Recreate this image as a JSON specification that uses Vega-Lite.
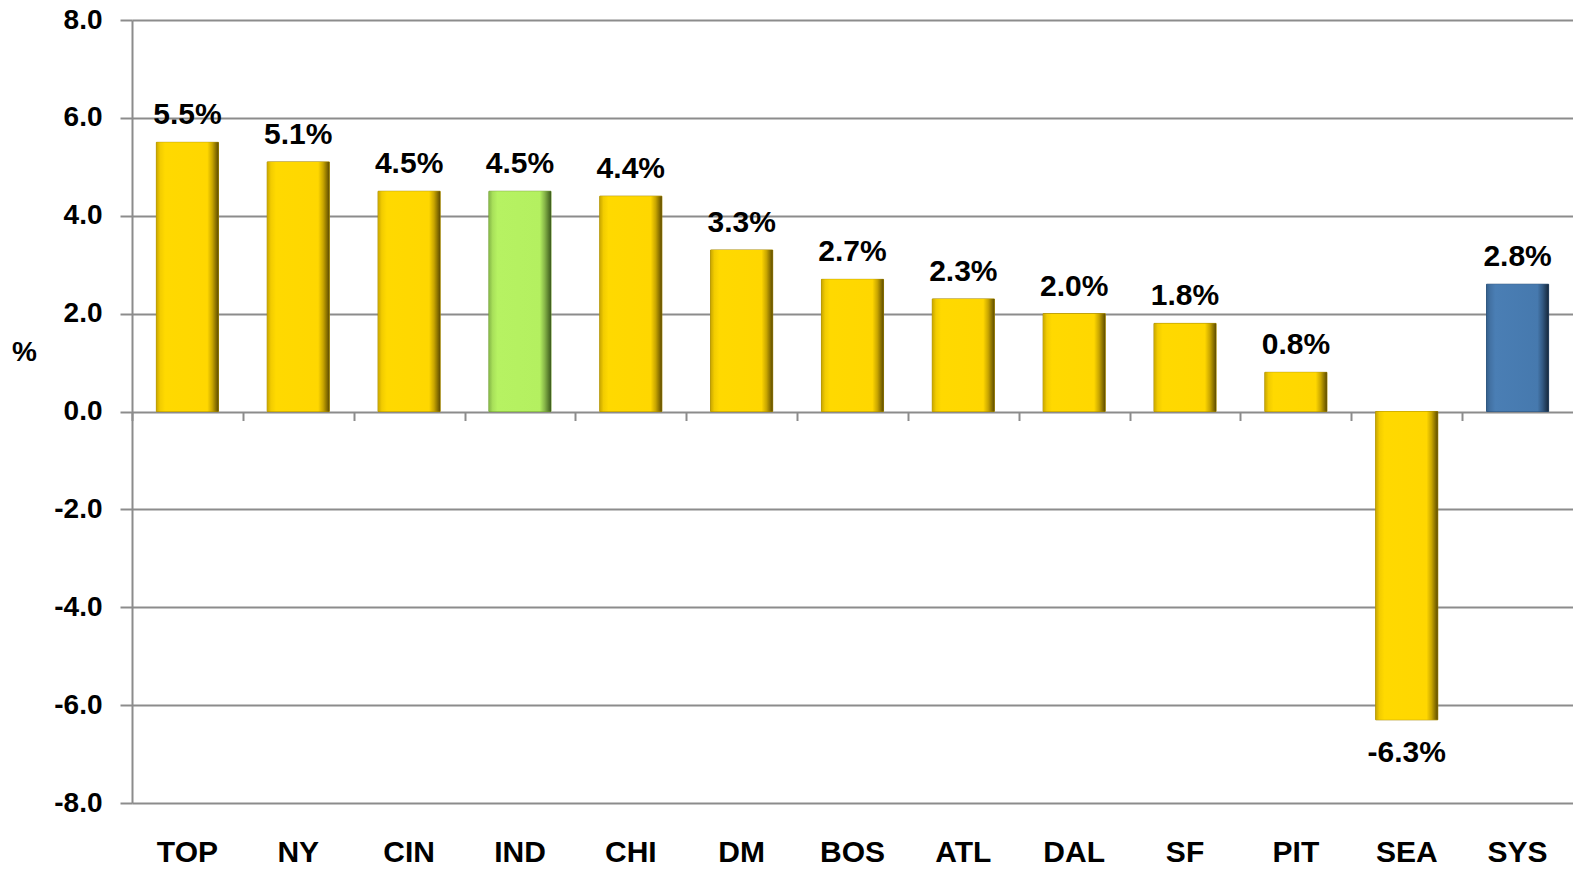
{
  "$schema": "https://vega.github.io/schema/vega-lite/v6.json",
  "width": 1441,
  "height": 783,
  "autosize": {"type": "none"},
  "padding": {"left": 132, "top": 20, "right": 0, "bottom": 66},
  "background": "white",
  "config": {
    "view": {"stroke": null},
    "font": "Liberation Sans"
  },
  "data": {
    "values": [
      {"city": "TOP", "value": 5.5, "label": "5.5%", "group": "region"},
      {"city": "NY", "value": 5.1, "label": "5.1%", "group": "region"},
      {"city": "CIN", "value": 4.5, "label": "4.5%", "group": "region"},
      {"city": "IND", "value": 4.5, "label": "4.5%", "group": "highlight"},
      {"city": "CHI", "value": 4.4, "label": "4.4%", "group": "region"},
      {"city": "DM", "value": 3.3, "label": "3.3%", "group": "region"},
      {"city": "BOS", "value": 2.7, "label": "2.7%", "group": "region"},
      {"city": "ATL", "value": 2.3, "label": "2.3%", "group": "region"},
      {"city": "DAL", "value": 2.0, "label": "2.0%", "group": "region"},
      {"city": "SF", "value": 1.8, "label": "1.8%", "group": "region"},
      {"city": "PIT", "value": 0.8, "label": "0.8%", "group": "region"},
      {"city": "SEA", "value": -6.3, "label": "-6.3%", "group": "region"},
      {"city": "SYS", "value": 2.6, "label": "2.8%", "group": "system"}
    ]
  },
  "resolve": {"axis": {"x": "independent"}},
  "layer": [
    {
      "mark": {"type": "bar", "strokeWidth": 1},
      "encoding": {
        "x": {
          "field": "city", "type": "nominal", "sort": null,
          "scale": {"domain": ["TOP", "NY", "CIN", "IND", "CHI", "DM", "BOS", "ATL", "DAL", "SF", "PIT", "SEA", "SYS"], "paddingInner": 0.44, "paddingOuter": 0.22},
          "axis": {
            "title": null, "domain": false, "ticks": false, "grid": false,
            "labelAngle": 0, "labelFontSize": 30, "labelFontWeight": "bold",
            "labelColor": "black", "labelPadding": 34, "labelBaseline": "top"
          }
        },
        "y": {
          "field": "value", "type": "quantitative",
          "scale": {"domain": [-8, 8], "nice": false, "zero": false},
          "axis": {
            "values": [-8, -6, -4, -2, 0, 2, 4, 6, 8],
            "format": ".1f",
            "labelExpr": "replace(datum.label, '\u2212', '-')",
            "title": "%", "titleAngle": 0, "titleFontSize": 28, "titleFontWeight": "bold",
            "titleColor": "black", "titleX": -108, "titleY": 332,
            "titleAlign": "center", "titleBaseline": "middle",
            "labelFontSize": 28, "labelFontWeight": "bold", "labelColor": "black",
            "labelPadding": 18, "tickSize": 12, "tickColor": "#8c8c8c", "tickWidth": 2,
            "domainColor": "#8c8c8c", "domainWidth": 2,
            "gridColor": "#8c8c8c", "gridWidth": 2, "gridOpacity": 1
          }
        },
        "color": {
          "field": "group", "type": "nominal", "legend": null,
          "scale": {"domain": ["region", "highlight", "system"], "range": ["#FFD700", "#B4F060", "#4679AE"]}
        },
        "stroke": {
          "field": "group", "type": "nominal", "legend": null,
          "scale": {"domain": ["region", "highlight", "system"], "range": ["#A88A00", "#6E9A30", "#2B4F75"]}
        }
      }
    },
    {
      "transform": [{"filter": "datum.group == 'region'"}],
      "mark": {
        "type": "bar",
        "color": {"gradient": "linear", "x1": 0, "x2": 1, "y1": 0, "y2": 0,
          "stops": [
            {"offset": 0, "color": "#C9A700"},
            {"offset": 0.06, "color": "#F2CC00"},
            {"offset": 0.14, "color": "#FFD900"},
            {"offset": 0.82, "color": "#FFD700"},
            {"offset": 0.9, "color": "#C9A600"},
            {"offset": 1, "color": "#5E4C00"}
          ]}
      },
      "encoding": {
        "x": {"field": "city", "type": "nominal", "sort": null, "axis": null},
        "y": {"field": "value", "type": "quantitative"}
      }
    },
    {
      "transform": [{"filter": "datum.group == 'highlight'"}],
      "mark": {
        "type": "bar",
        "color": {"gradient": "linear", "x1": 0, "x2": 1, "y1": 0, "y2": 0,
          "stops": [
            {"offset": 0, "color": "#86B848"},
            {"offset": 0.06, "color": "#A8E05A"},
            {"offset": 0.14, "color": "#B6F262"},
            {"offset": 0.82, "color": "#B4F060"},
            {"offset": 0.9, "color": "#86B448"},
            {"offset": 1, "color": "#3C5A1C"}
          ]}
      },
      "encoding": {
        "x": {"field": "city", "type": "nominal", "sort": null, "axis": null},
        "y": {"field": "value", "type": "quantitative"}
      }
    },
    {
      "transform": [{"filter": "datum.group == 'system'"}],
      "mark": {
        "type": "bar",
        "color": {"gradient": "linear", "x1": 0, "x2": 1, "y1": 0, "y2": 0,
          "stops": [
            {"offset": 0, "color": "#35608C"},
            {"offset": 0.06, "color": "#4372A4"},
            {"offset": 0.14, "color": "#4A7EB4"},
            {"offset": 0.82, "color": "#4679AE"},
            {"offset": 0.9, "color": "#335A84"},
            {"offset": 1, "color": "#16283C"}
          ]}
      },
      "encoding": {
        "x": {"field": "city", "type": "nominal", "sort": null, "axis": null},
        "y": {"field": "value", "type": "quantitative"}
      }
    },
    {
      "transform": [{"filter": "datum.value >= 0"}],
      "mark": {"type": "text", "baseline": "alphabetic", "dy": -18, "fontSize": 30, "fontWeight": "bold", "color": "black"},
      "encoding": {
        "x": {
          "field": "city", "type": "nominal", "sort": null,
          "axis": {
            "title": null, "labels": false, "grid": false, "domain": false,
            "ticks": true, "bandPosition": 0, "tickOffset": -24.4, "tickSize": -9, "tickWidth": 2,
            "tickColor": "#8c8c8c", "offset": -391.5, "zindex": 1
          }
        },
        "y": {"field": "value", "type": "quantitative"},
        "text": {"field": "label"}
      }
    },
    {
      "transform": [{"filter": "datum.value < 0"}],
      "mark": {"type": "text", "baseline": "top", "dy": 18, "fontSize": 30, "fontWeight": "bold", "color": "black"},
      "encoding": {
        "x": {"field": "city", "type": "nominal", "sort": null, "axis": null},
        "y": {"field": "value", "type": "quantitative"},
        "text": {"field": "label"}
      }
    }
  ]
}
